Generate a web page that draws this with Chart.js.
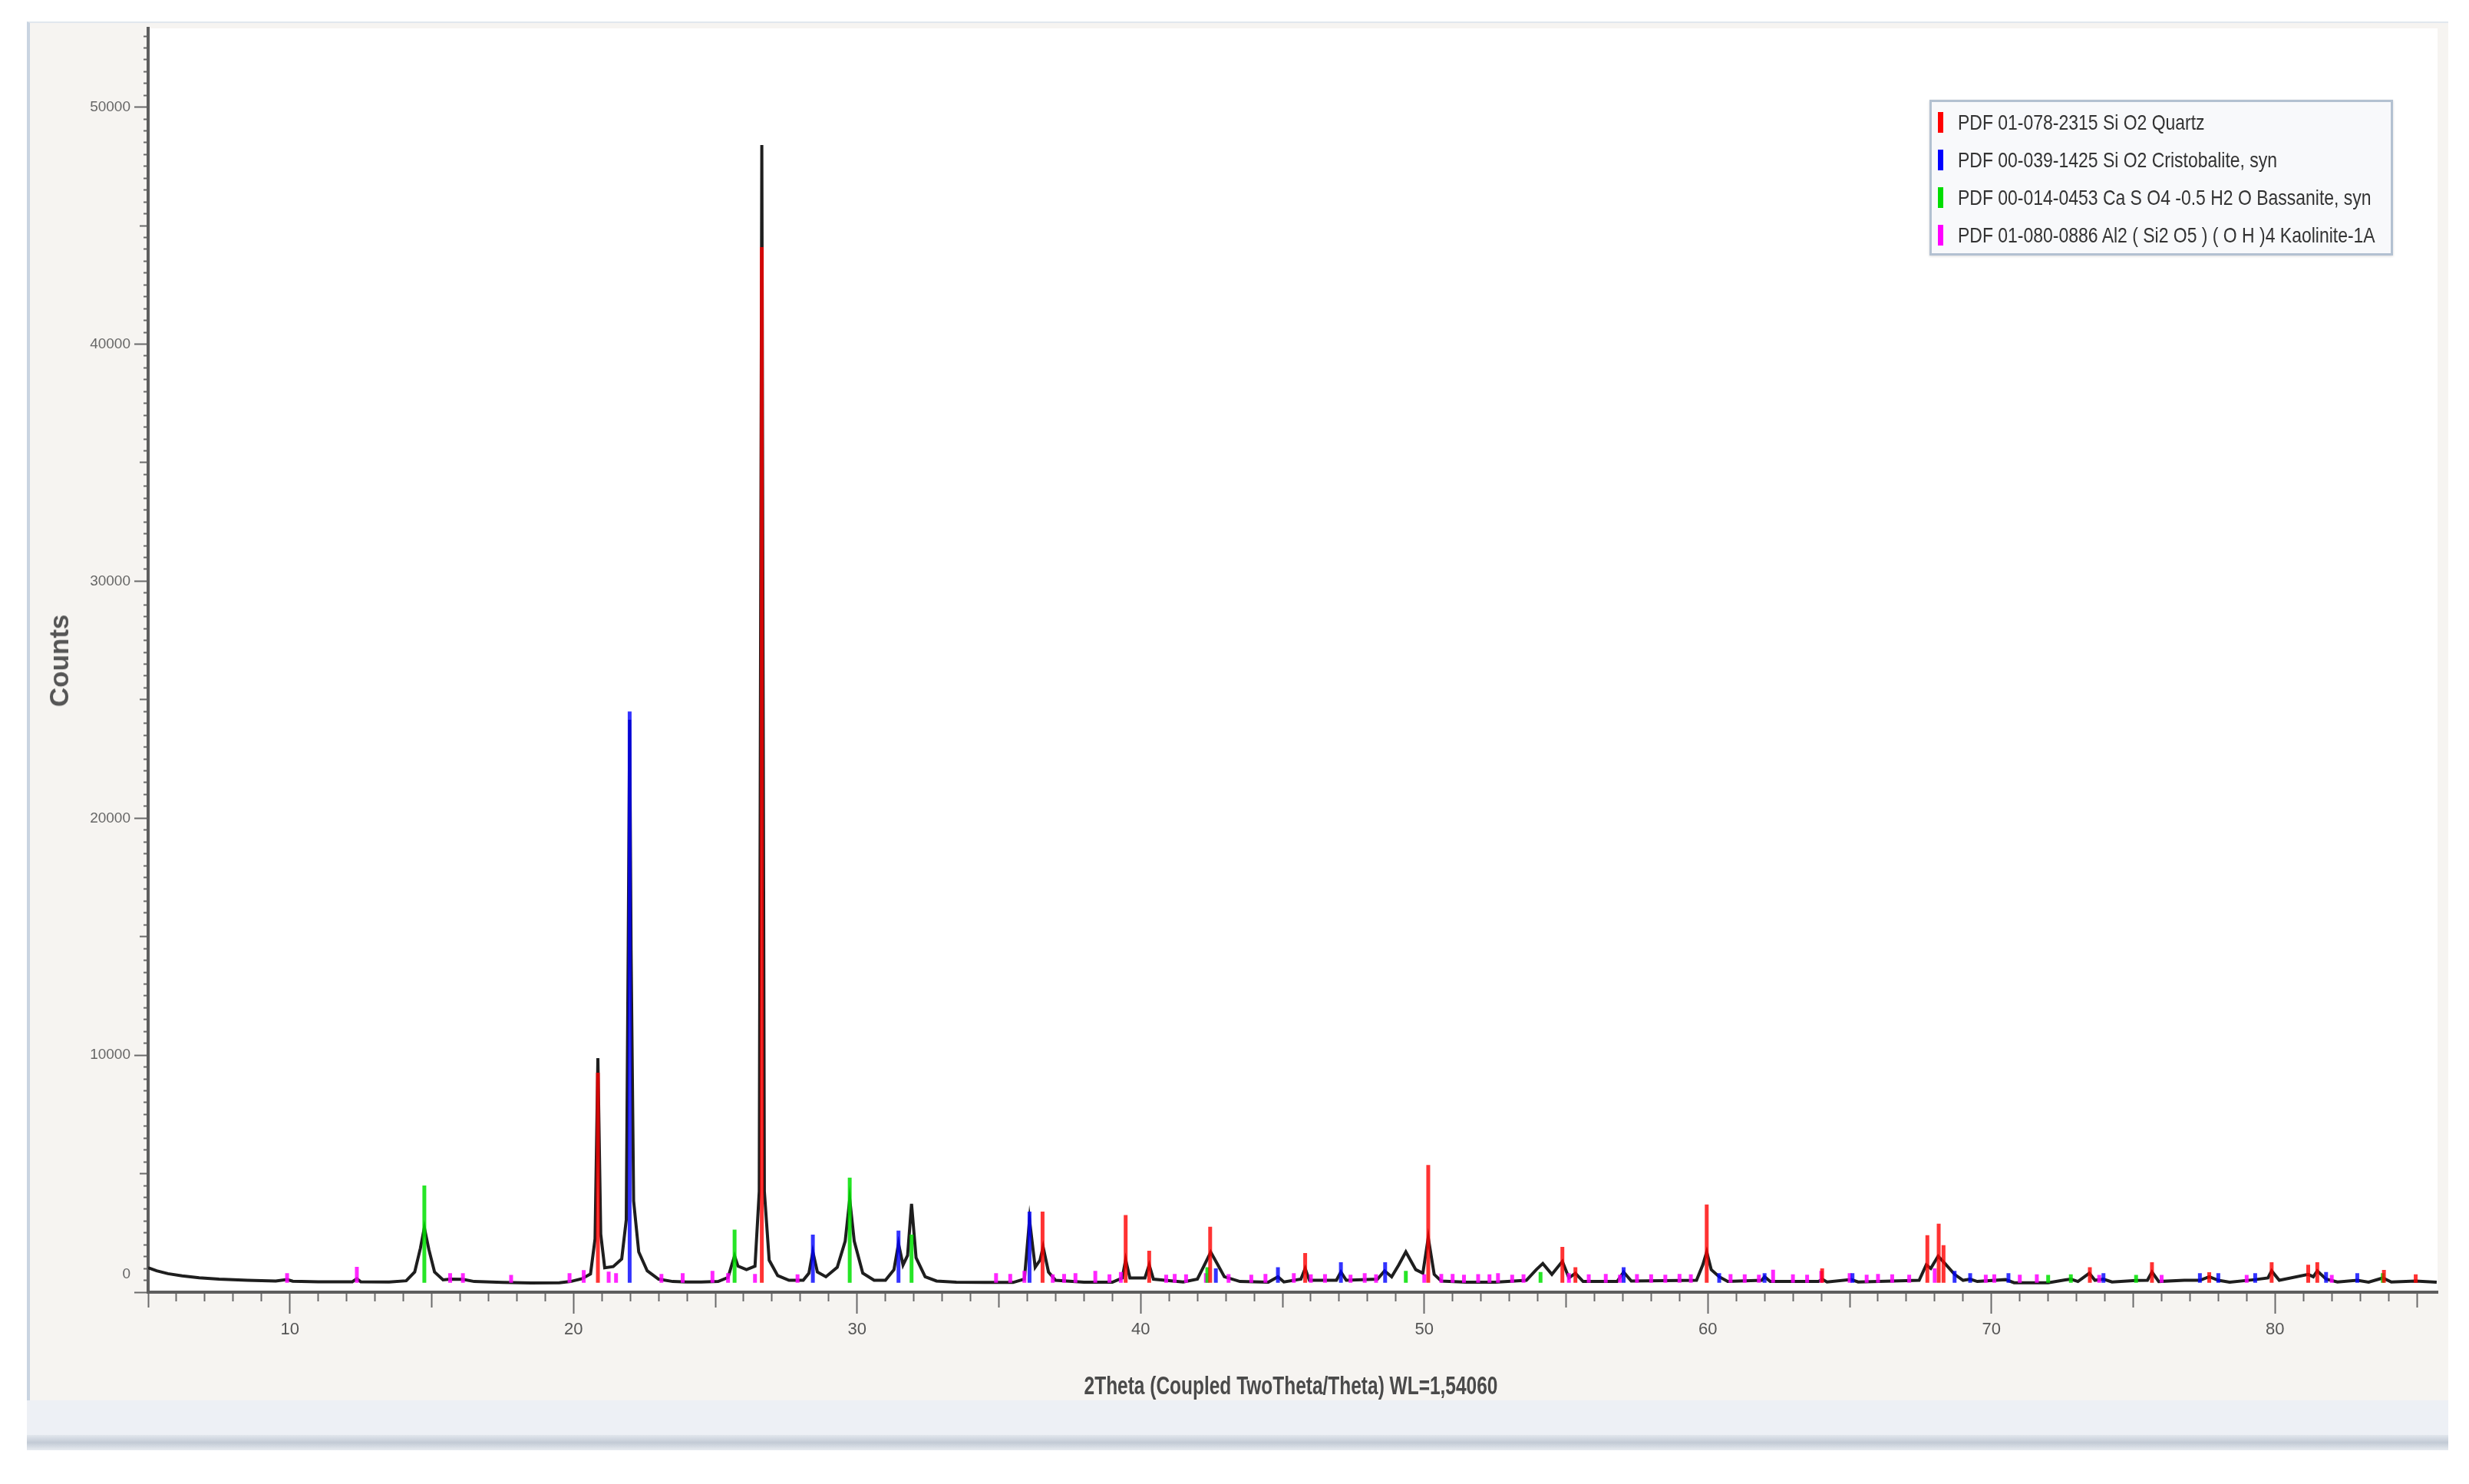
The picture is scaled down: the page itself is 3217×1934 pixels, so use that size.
<!DOCTYPE html>
<html>
<head>
<meta charset="utf-8">
<title>XRD pattern</title>
<script src="https://cdn.jsdelivr.net/npm/chart.js@4.4.1/dist/chart.umd.min.js"></script>
<style>
    body { margin: 0; background: #ffffff; width: 3217px; height: 1934px; overflow: hidden; position: relative; }
    #frame { position: absolute; left: 35px; top: 28px; width: 3155px; height: 1797px; box-sizing: border-box;
        background: #f6f4f1; border-left: 4px solid #c9d4e1; border-top: 2px solid #e1e7ee; }
    #strip { position: absolute; left: 35px; top: 1825px; width: 3155px; height: 45px; background: #edf0f5; }
    #bar { position: absolute; left: 35px; top: 1870px; width: 3155px; height: 20px;
        background: linear-gradient(#e2e7ed, #c2cad5 50%, #e7ebf0); }
    #xrd { position: absolute; left: 0; top: 0; }
    .axis-title { position: absolute; font-family: "Liberation Sans", Arial, sans-serif; font-weight: bold; color: #4a4a4a; white-space: nowrap; }
    #xTitle { left: 1682px; top: 1805px; font-size: 34px; transform: translate(-50%, -50%) scaleX(0.72); }
    #yTitle { left: 77px; top: 861px; font-size: 35px; transform: translate(-50%, -50%) rotate(-90deg); color: #555; }
    #legend { position: absolute; left: 2514px; top: 130px; width: 604px; height: 203px; box-sizing: border-box;
        border: 3px solid #b3c1d1; background: #f8f9fb; padding-top: 2px; box-shadow: 0 1px 3px rgba(0,0,0,0.15); }
    #legend .row { position: relative; height: 49px; }
    #legend .mark { position: absolute; left: 8px; top: 11px; width: 7px; height: 27px; }
    #legend .txt { position: absolute; left: 34px; top: 50%; transform: translateY(-50%) scaleX(0.82); transform-origin: left center;
        font-family: "Liberation Sans", Arial, sans-serif; font-size: 28px; color: #333; white-space: nowrap; }
</style>
</head>
<body>
<div id="frame"></div>
<div id="strip"></div>
<div id="bar"></div>
<canvas id="xrd" width="3217" height="1934"></canvas>
<div id="yTitle" class="axis-title">Counts</div>
<div id="xTitle" class="axis-title">2Theta (Coupled TwoTheta/Theta) WL=1,54060</div>
<div id="legend"></div>
<script>
// measured scan (2theta in degrees, counts)
var twoTheta = [5.0, 5.3, 5.7, 6.2, 6.8, 7.5, 8.5, 9.5, 9.9, 10.1, 11.0, 12.2, 12.36, 12.5, 13.5, 14.1, 14.4, 14.6, 14.74, 14.9,
    15.1, 15.4, 15.65, 16.1, 16.5, 17.5, 18.5, 19.5, 19.9, 20.3, 20.6, 20.76, 20.86, 20.96, 21.1, 21.4, 21.7, 21.86, 21.93, 21.98,
    22.03, 22.12, 22.3, 22.6, 23.0, 23.5, 24.0, 24.5, 25.1, 25.45, 25.58, 25.68, 25.8, 26.1, 26.4, 26.55, 26.61, 26.64, 26.67, 26.73,
    26.9, 27.2, 27.6, 28.1, 28.3, 28.44, 28.6, 28.9, 29.3, 29.58, 29.74, 29.9, 30.2, 30.6, 31.0, 31.3, 31.46, 31.62, 31.78, 31.92,
    32.08, 32.4, 32.8, 33.5, 34.5, 35.5, 35.9, 36.08, 36.28, 36.45, 36.56, 36.75, 37.0, 38.0, 39.0, 39.35, 39.47, 39.62, 40.15, 40.3,
    40.45, 41.5, 42.0, 42.25, 42.47, 42.7, 42.95, 43.5, 44.5, 44.84, 45.05, 45.65, 45.8, 45.95, 46.9, 47.06, 47.25, 48.35, 48.6, 48.85,
    49.1, 49.35, 49.7, 49.95, 50.14, 50.35, 50.6, 51.5, 52.5, 53.6, 53.95, 54.18, 54.5, 54.87, 55.1, 55.33, 55.6, 56.8, 57.03, 57.3,
    59.6, 59.82, 59.96, 60.12, 60.4, 60.7, 61.9, 62.0, 62.2, 63.9, 64.03, 64.2, 65.05, 65.3, 67.45, 67.7, 67.86, 68.12, 68.33, 68.7,
    69.0, 69.25, 69.5, 70.5, 70.8, 72.0, 72.6, 72.8, 73.05, 73.45, 73.65, 73.95, 74.25, 75.1, 75.5, 75.66, 75.9, 76.8, 77.35, 77.68,
    78.0, 78.4, 79.3, 79.75, 79.88, 80.15, 81.17, 81.35, 81.49, 81.8, 82.2, 82.9, 83.3, 83.8, 84.1, 84.96, 85.7];
var counts = [1030, 900, 780, 690, 610, 550, 500, 470, 530, 460, 440, 440, 570, 435, 430, 480, 850, 1850, 2720, 1800,
    850, 520, 550, 540, 450, 410, 390, 400, 450, 570, 770, 2250, 9870, 2450, 1030, 1080, 1400, 3050, 14650, 24150,
    14450, 3850, 1700, 900, 550, 450, 430, 430, 450, 620, 1150, 1530, 1100, 950, 1100, 4250, 33650, 48400, 33650, 4250,
    1350, 700, 500, 500, 800, 1700, 850, 650, 1050, 2150, 3920, 2150, 800, 500, 500, 950, 2050, 1150, 1550, 3730,
    1450, 650, 470, 420, 410, 410, 550, 3050, 1050, 1350, 1910, 850, 500, 420, 420, 600, 1370, 600, 600, 1150,
    550, 430, 550, 1150, 1690, 1200, 650, 450, 420, 650, 430, 550, 1000, 500, 500, 850, 500, 550, 900, 650,
    1150, 1700, 950, 800, 2300, 750, 470, 420, 420, 500, 950, 1210, 750, 1300, 600, 800, 450, 450, 850, 470,
    500, 1150, 1700, 950, 650, 450, 500, 650, 450, 450, 550, 430, 530, 430, 500, 1150, 1000, 1520, 1250, 750,
    500, 550, 450, 530, 400, 400, 520, 550, 450, 800, 500, 550, 430, 490, 500, 850, 450, 500, 500, 650,
    500, 420, 530, 600, 900, 500, 750, 650, 900, 550, 430, 500, 420, 600, 430, 470, 420];

// reference patterns (stick position, stick height)
var quartzPos = [20.86, 26.64, 36.54, 39.47, 40.3, 42.45, 45.8, 50.14, 54.87, 55.33, 59.96, 64.03, 67.74, 68.14, 68.31,
    73.47, 75.66, 77.68, 79.88, 81.17, 81.49, 83.84, 84.96];
var quartzInt = [9260, 44100, 3400, 3250, 1750, 2760, 1650, 5370, 1910, 1050, 3700, 1000, 2400, 2890, 1980,
    1050, 1260, 840, 1260, 1160, 1260, 940, 750];
var cristobalitePos = [21.98, 28.44, 31.46, 36.08, 42.65, 44.84, 47.06, 48.62, 57.03, 60.4, 62.0, 65.1, 68.7, 69.25, 70.6,
    73.95, 77.35, 78.0, 79.3, 81.8, 82.9];
var cristobaliteInt = [24500, 2430, 2600, 3400, 1000, 1050, 1260, 1260, 1050, 800, 800, 800, 900, 800, 800,
    800, 800, 800, 800, 850, 800];
var bassanitePos = [14.74, 25.68, 29.74, 31.92, 42.35, 49.35, 54.1, 72.0, 72.8, 75.1, 83.8];
var bassaniteInt = [4500, 2640, 4830, 2430, 1050, 900, 850, 730, 750, 730, 800];
var kaolinitePos = [9.9, 12.36, 15.65, 16.1, 17.8, 19.86, 20.36, 21.24, 21.5, 23.1, 23.85, 24.9, 25.45, 26.4, 27.9,
    34.9, 35.4, 35.9, 36.9, 37.3, 37.7, 38.4, 38.9, 39.3, 40.9, 41.2, 41.6, 42.3, 43.1, 43.9, 44.4, 45.4, 46.0, 46.5,
    47.4, 47.9, 48.3, 50.0, 50.6, 51.0, 51.4, 51.9, 52.3, 52.6, 53.1, 53.5, 55.1, 55.8, 56.4, 56.9, 57.5, 58.0, 58.5,
    59.0, 59.4, 60.8, 61.3, 61.8, 62.3, 63.0, 63.5, 64.0, 65.0, 65.6, 66.0, 66.5, 67.1, 68.0, 69.8, 70.1, 71.0, 71.6,
    73.8, 76.0, 79.0, 82.0];
var kaoliniteInt = [800, 1070, 800, 800, 730, 800, 930, 870, 800, 770, 800, 900, 800, 770, 750,
    800, 770, 900, 750, 770, 800, 900, 750, 850, 740, 770, 750, 800, 760, 740, 770, 800, 750, 760,
    740, 800, 750, 750, 770, 770, 740, 760, 750, 800, 740, 750, 800, 750, 770, 740, 760, 750, 740,
    770, 750, 760, 750, 740, 950, 750, 740, 900, 800, 740, 770, 750, 740, 1000, 740, 750, 740, 750,
    730, 730, 730, 730];
var baselineCounts = 400;

var phaseNames = [
    "PDF 01-078-2315 Si O2 Quartz",
    "PDF 00-039-1425 Si O2 Cristobalite, syn",
    "PDF 00-014-0453 Ca S O4 -0.5 H2 O Bassanite, syn",
    "PDF 01-080-0886 Al2 ( Si2 O5 ) ( O H )4 Kaolinite-1A"
];
var yTickLabels = [0, 10000, 20000, 30000, 40000, 50000];
var xTickLabels = [10, 20, 30, 40, 50, 60, 70, 80];

// tick positions: y every 500 counts, x every degree
var yTickValues = [];
for (var v = 0; v <= 53000; v += 500) yTickValues.push(v);
var xTickValues = [];
for (var d = 5; d <= 85; d++) xTickValues.push(d);

// each stick goes from the scan baseline up to its height, a null breaks the line
function stickPoints(pos, heights) {
    var pts = [];
    pos.forEach(function (p, i) {
        pts.push({ x: p, y: baselineCounts }, { x: p, y: heights[i] }, { x: p, y: null });
    });
    return pts;
}

function stickSet(name, pos, heights, color, solid) {
    return {
        label: name,
        data: stickPoints(pos, heights),
        borderColor: color,
        legendColor: solid,
        borderWidth: 5,
        borderCapStyle: 'butt',
        spanGaps: false
    };
}

var scan = twoTheta.map(function (t, i) { return { x: t, y: counts[i] }; });

var plotBackground = {
    id: 'plotBackground',
    beforeDraw: function (chart) {
        var a = chart.chartArea;
        chart.ctx.save();
        chart.ctx.fillStyle = '#ffffff';
        chart.ctx.fillRect(a.left, a.top, a.right - a.left, a.bottom - a.top);
        chart.ctx.restore();
    }
};

var chart = new Chart(document.getElementById('xrd'), {
    type: 'line',
    data: {
        datasets: [
            stickSet(phaseNames[0], quartzPos, quartzInt, 'rgba(255,0,0,0.8)', '#ff0000'),
            stickSet(phaseNames[1], cristobalitePos, cristobaliteInt, 'rgba(0,0,255,0.8)', '#0000ff'),
            stickSet(phaseNames[2], bassanitePos, bassaniteInt, 'rgba(0,225,0,0.85)', '#00dd00'),
            stickSet(phaseNames[3], kaolinitePos, kaoliniteInt, 'rgba(255,0,255,0.85)', '#ff00ff'),
            {
                label: 'scan',
                data: scan,
                borderColor: '#1e1e1e',
                borderWidth: 4
            }
        ]
    },
    options: {
        responsive: false,
        animation: false,
        devicePixelRatio: 1,
        events: [],
        layout: { padding: { left: 0, top: 37, right: 41, bottom: 50 } },
        elements: { point: { radius: 0 }, line: { tension: 0 } },
        plugins: { legend: { display: false }, tooltip: { enabled: false } },
        scales: {
            x: {
                type: 'linear',
                min: 5,
                max: 85.73,
                afterFit: function (scale) { scale.height = 200; },
                afterBuildTicks: function (scale) {
                    scale.ticks = xTickValues.map(function (t) { return { value: t }; });
                },
                border: { display: true, color: '#5e5e5e', width: 4 },
                grid: {
                    drawOnChartArea: false,
                    tickLength: 28,
                    tickWidth: 2,
                    tickColor: '#6a6a6a',
                    // long tick every 10, medium every 5, short every 1
                    tickBorderDash: function (ctx) {
                        var t = Math.round(ctx.tick.value);
                        if (t % 10 === 0) return [];
                        if (t % 5 === 0) return [18, 100];
                        return [10, 100];
                    }
                },
                ticks: {
                    autoSkip: false,
                    maxRotation: 0,
                    padding: 8,
                    color: '#555',
                    font: { family: 'Liberation Sans', size: 22 },
                    callback: function (t) { return xTickLabels.indexOf(Math.round(t)) >= 0 ? Math.round(t) : ''; }
                }
            },
            y: {
                min: 0,
                max: 53324,
                afterFit: function (scale) { scale.width = 193; },
                afterBuildTicks: function (scale) {
                    scale.ticks = yTickValues.map(function (t) { return { value: t }; });
                },
                border: { display: true, color: '#5e5e5e', width: 4 },
                grid: {
                    drawOnChartArea: false,
                    tickLength: 18,
                    tickWidth: 2,
                    tickColor: '#6a6a6a',
                    tickBorderDash: function (ctx) {
                        var t = Math.round(ctx.tick.value);
                        if (t % 10000 === 0) return [];
                        if (t % 5000 === 0) return [0, 7, 11, 100];
                        return [0, 12, 6, 100];
                    }
                },
                ticks: {
                    autoSkip: false,
                    padding: 5,
                    color: '#666',
                    font: { family: 'Liberation Sans', size: 19 },
                    callback: function (t) {
                        var n = Math.round(t);
                        if (yTickLabels.indexOf(n) < 0) return '';
                        // the zero label sits a line above the axis corner, as in the source plot
                        return n === 0 ? ['0', '', ''] : n;
                    }
                }
            }
        }
    },
    plugins: [plotBackground]
});

// legend box built from the phase datasets
var legendBox = document.getElementById('legend');
chart.data.datasets.slice(0, 4).forEach(function (ds) {
    var row = document.createElement('div');
    row.className = 'row';
    var mark = document.createElement('span');
    mark.className = 'mark';
    mark.style.background = ds.legendColor;
    var txt = document.createElement('span');
    txt.className = 'txt';
    txt.textContent = ds.label;
    row.appendChild(mark);
    row.appendChild(txt);
    legendBox.appendChild(row);
});
</script>
</body>
</html>
